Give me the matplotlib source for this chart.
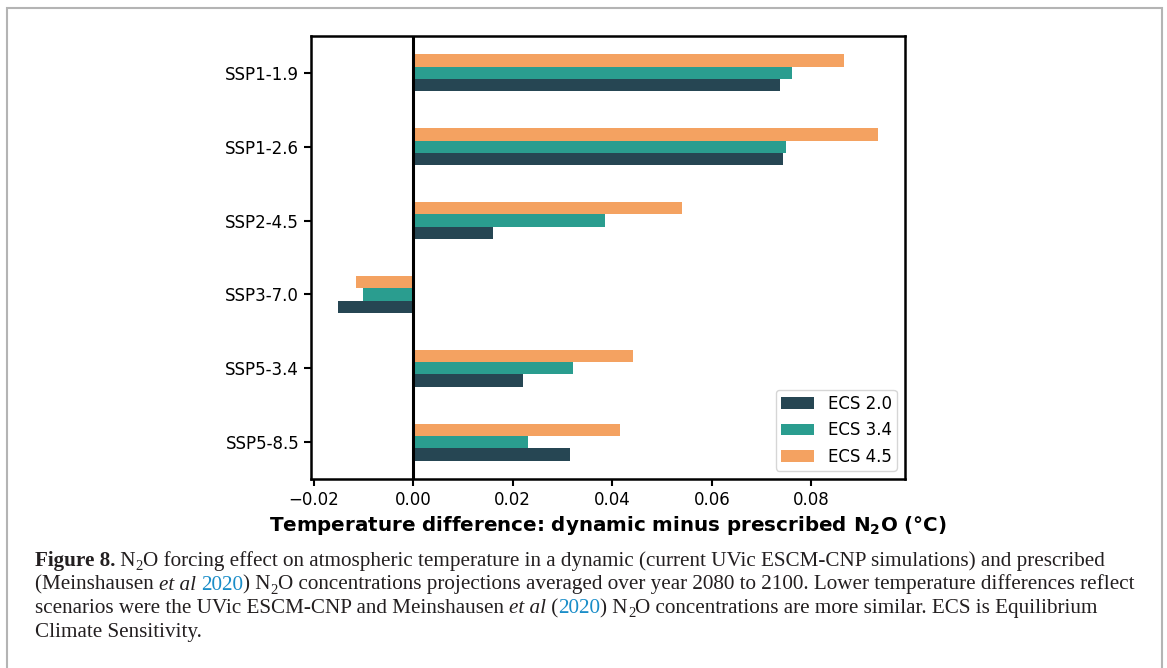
import numpy as np
import matplotlib
matplotlib.use('Agg')
import matplotlib.pyplot as plt
from matplotlib.transforms import IdentityTransform
from matplotlib.patches import Rectangle

# Data
scenarios = ['SSP1-1.9', 'SSP1-2.6', 'SSP2-4.5', 'SSP3-7.0', 'SSP5-3.4', 'SSP5-8.5']
ecs_20 = [0.0737, 0.0743, 0.0161, -0.0151, 0.0221, 0.0315]
ecs_34 = [0.0761, 0.0749, 0.0386, -0.0100, 0.0321, 0.0231]
ecs_45 = [0.0865, 0.0934, 0.0540, -0.0114, 0.0442, 0.0416]
series_labels = ['ECS 2.0', 'ECS 3.4', 'ECS 4.5']
series_colors = ['#264653', '#2a9d8f', '#f4a261']

W, H = 1167, 668
fig = plt.figure(figsize=(W / 100, H / 100), dpi=100)

# outer grey frame of the figure panel
fig.patches.append(Rectangle((7, -20), 1155, H - 8 + 20, transform=IdentityTransform(),
                             fill=False, edgecolor='#b4b4b4', linewidth=1.5))

ax = fig.add_axes([311 / W, (H - 479) / H, 594 / W, 443 / H])

y = np.arange(len(scenarios))
h = 1 / 6
for k, (vals, lab, col) in enumerate(zip([ecs_20, ecs_34, ecs_45], series_labels, series_colors)):
    ax.barh(y + (1 - k) * h, vals, height=h, color=col, label=lab)

ax.axvline(0, color='black', linewidth=2.2)
ax.set_yticks(y)
ax.set_yticklabels(scenarios)
ax.set_ylim(5.5, -0.5)
lo = min(min(ecs_20), min(ecs_34), min(ecs_45))
hi = max(max(ecs_20), max(ecs_34), max(ecs_45))
pad = 0.05 * (hi - lo)
ax.set_xlim(lo - pad, hi + pad)
ax.set_xticks([-0.02, 0.0, 0.02, 0.04, 0.06, 0.08])
ax.tick_params(labelsize=12, width=1.5, length=5)
for s in ax.spines.values():
    s.set_linewidth(1.8)
ax.set_xlabel(r'Temperature difference: dynamic minus prescribed N$_\mathbf{2}$O (°C)',
              fontsize=14.3, fontweight='bold', labelpad=4)
ax.legend(loc='lower right', fontsize=12, handlelength=2.0, borderpad=0.3)

# caption, drawn as runs of styled text
fig.canvas.draw()
renderer = fig.canvas.get_renderer()
cap_size = 15.2
cap_font = 'Liberation Serif'


def run_width(text, **kw):
    t = fig.text(0, 0, 'x' + text + 'x', transform=IdentityTransform(), **kw)
    t2 = fig.text(0, 0, 'xx', transform=IdentityTransform(), **kw)
    w = t.get_window_extent(renderer).width - t2.get_window_extent(renderer).width
    t.remove()
    t2.remove()
    return w


def draw_line(x, yb, runs):
    for text, style in runs:
        kw = dict(family=cap_font, fontsize=cap_size, color='#231f20')
        dy = 0
        if 'b' in style:
            kw['fontweight'] = 'bold'
        if 'i' in style:
            kw['fontstyle'] = 'italic'
        if 'c' in style:
            kw['color'] = '#1a8dc8'
        if 's' in style:
            kw['fontsize'] = cap_size * 0.7
            dy = -4
        fig.text(x, yb + dy, text, transform=IdentityTransform(), va='baseline', ha='left', **kw)
        x += run_width(text, **kw)


lines = [
    [('Figure 8.', 'b'), (' N', ''), ('2', 's'),
     ('O forcing effect on atmospheric temperature in a dynamic (current UVic ESCM-CNP simulations) and prescribed', '')],
    [('(Meinshausen ', ''), ('et al', 'i'), (' ', ''), ('2020', 'c'), (') N', ''), ('2', 's'),
     ('O concentrations projections averaged over year 2080 to 2100. Lower temperature differences reflect', '')],
    [('scenarios were the UVic ESCM-CNP and Meinshausen ', ''), ('et al', 'i'), (' (', ''), ('2020', 'c'),
     (') N', ''), ('2', 's'), ('O concentrations are more similar. ECS is Equilibrium', '')],
    [('Climate Sensitivity.', '')],
]
baselines = [566, 589.5, 613, 636.5]
for ln, yb in zip(lines, baselines):
    draw_line(35, H - yb, ln)

fig.savefig('out.png', dpi=100)
